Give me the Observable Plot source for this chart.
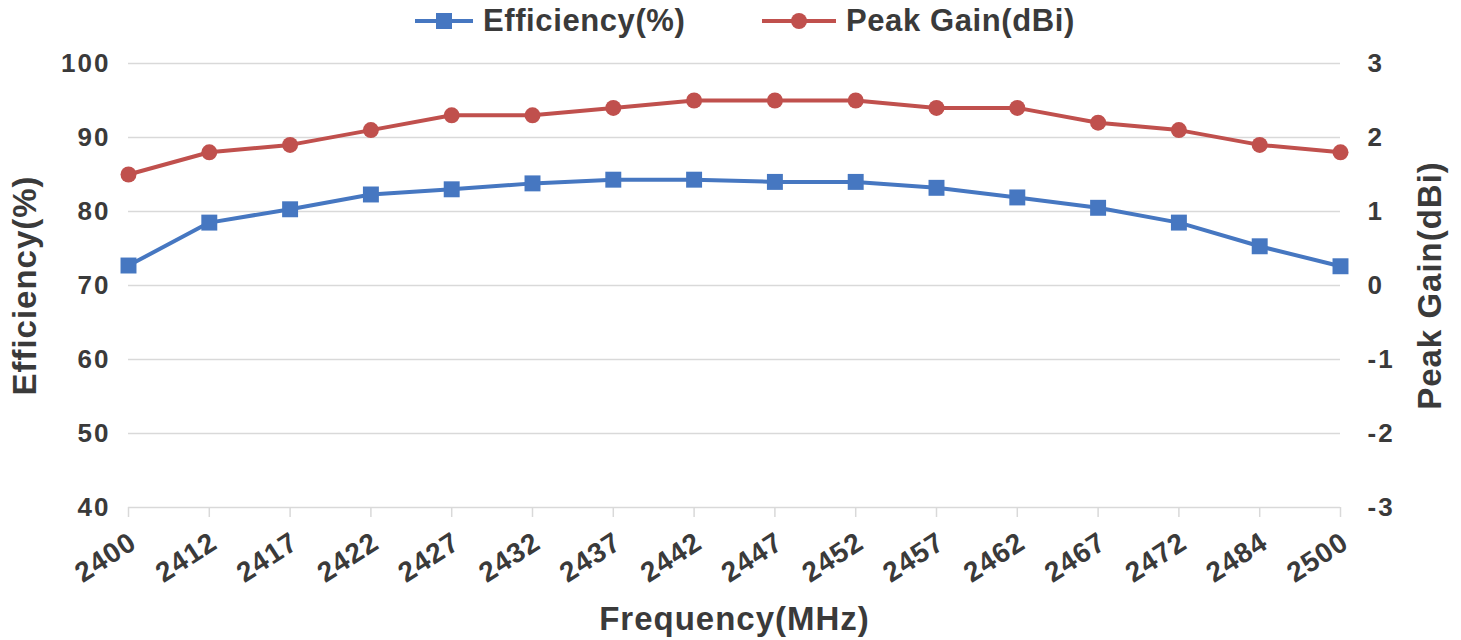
<!DOCTYPE html>
<html>
<head>
<meta charset="utf-8">
<script src="https://cdn.jsdelivr.net/npm/d3@7"></script>
<script src="https://cdn.jsdelivr.net/npm/@observablehq/plot@0.6"></script>
<style>
  body { margin: 0; background: #fff; font-family: "Liberation Sans", Arial, sans-serif; }
  #legend { position: relative; height: 42px; width: 1461px; }
  .item { position: absolute; top: 0; height: 42px; display: flex; align-items: center; font-weight: bold; font-size: 31px; letter-spacing: 0.6px; color: #3a3a3a; }
  .item svg { margin-right: 10px; }
  #chart svg { display: block; }
  #chart g[aria-label="y-axis tick label"] text { letter-spacing: 2px; }
  #chart g[aria-label="x-axis tick label"] text { letter-spacing: 1px; }
  #chart g[aria-label="x-axis label"] text, #chart g[aria-label="y-axis label"] text { font-size: 33px; letter-spacing: 1px; }
</style>
</head>
<body>
<div id="legend"></div>
<div id="chart"></div>
<script>
const freqs = ["2400","2412","2417","2422","2427","2432","2437","2442","2447","2452","2457","2462","2467","2472","2484","2500"];
const efficiency = [72.7, 78.5, 80.3, 82.3, 83.0, 83.8, 84.3, 84.3, 84.0, 84.0, 83.2, 81.9, 80.5, 78.5, 75.3, 72.6];
const peakGain = [1.5, 1.8, 1.9, 2.1, 2.3, 2.3, 2.4, 2.5, 2.5, 2.5, 2.4, 2.4, 2.2, 2.1, 1.9, 1.8];
const leftTicks = [40, 50, 60, 70, 80, 90, 100];
const rightTicks = [-3, -2, -1, 0, 1, 2, 3];
const blue = "#4677c1";
const red = "#c0504d";

// map gain onto efficiency scale: gain 0 -> 70, 1 unit -> 10
const g2e = g => 70 + g * 10;
const effData = freqs.map((f, i) => ({f, v: efficiency[i]}));
const gainData = freqs.map((f, i) => ({f, v: g2e(peakGain[i])}));

const textColor = "#3a3a3a";
const plot = Plot.plot({
  width: 1461,
  height: 598,
  marginTop: 21,
  marginBottom: 133,
  marginLeft: 128,
  marginRight: 121,
  style: {fontFamily: "'Liberation Sans', Arial, sans-serif", fontWeight: "bold", fontSize: "26px", color: textColor, background: "#fff"},
  x: {type: "point", domain: freqs, padding: 0, round: false},
  y: {domain: [40, 100]},
  marks: [
    Plot.gridY(leftTicks, {stroke: "#d9d9d9", strokeOpacity: 1, strokeWidth: 1.5}),
    Plot.axisX({tickSize: 10, stroke: "#d9d9d9", strokeOpacity: 1, strokeWidth: 1.5, tickFormat: () => "", label: null}),
    Plot.axisX({tickSize: 0, tickRotate: -33, tickPadding: 32, dx: 5, fontSize: 28, fill: textColor,
      label: "Frequency(MHz)", labelAnchor: "center", labelArrow: "none", labelOffset: 122}),
    Plot.axisY({ticks: leftTicks, tickSize: 0, tickPadding: 18, fontSize: 26, fill: textColor,
      label: "Efficiency(%)", labelAnchor: "center", labelArrow: "none", labelOffset: 116}),
    Plot.axisY({anchor: "right", ticks: rightTicks.map(g2e), tickSize: 0, tickPadding: 27, fontSize: 26, fill: textColor,
      tickFormat: d => String(Math.round((d - 70) / 10)),
      label: "Peak Gain(dBi)", labelAnchor: "center", labelArrow: "none", labelOffset: 100}),
    Plot.line(effData, {x: "f", y: "v", stroke: blue, strokeWidth: 4}),
    Plot.dot(effData, {x: "f", y: "v", symbol: "square", r: 9, fill: blue, stroke: "none"}),
    Plot.line(gainData, {x: "f", y: "v", stroke: red, strokeWidth: 4}),
    Plot.dot(gainData, {x: "f", y: "v", symbol: "circle", r: 8, fill: red, stroke: "none"})
  ]
});
document.getElementById("chart").appendChild(plot);

// legend
const legend = document.getElementById("legend");
function addItem(left, label, color, shape, lineW) {
  const div = document.createElement("div");
  div.className = "item";
  div.style.left = left + "px";
  const mid = lineW / 2;
  const marker = shape === "square"
    ? `<rect x="${mid - 8}" y="11" width="16" height="16" fill="${color}"/>`
    : `<circle cx="${mid}" cy="19" r="8" fill="${color}"/>`;
  div.innerHTML = `<svg width="${lineW}" height="38"><line x1="0" x2="${lineW}" y1="19" y2="19" stroke="${color}" stroke-width="4"/>${marker}</svg><span>${label}</span>`;
  legend.appendChild(div);
}
addItem(415, "Efficiency(%)", blue, "square", 58);
addItem(762, "Peak Gain(dBi)", red, "circle", 74);
</script>
</body>
</html>
